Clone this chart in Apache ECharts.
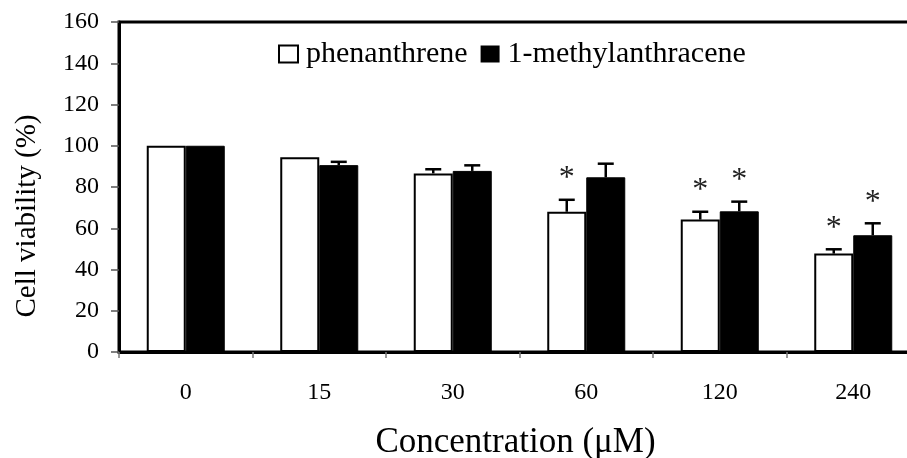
<!DOCTYPE html>
<html>
<head>
<meta charset="utf-8">
<script src="https://cdn.jsdelivr.net/npm/echarts@6/dist/echarts.min.js"></script>
<style>
html,body{margin:0;padding:0;background:#fff;}
#chart{width:907px;height:458px;}
</style>
</head>
<body>
<div id="chart"></div>
<script>
// ---- data ----
var categories = ['0', '15', '30', '60', '120', '240'];
var phenanthrene = [100, 94.4, 86.6, 68.0, 64.2, 47.7];
var phenanthreneErr = [0, 0, 2.0, 5.8, 3.8, 2.1];
var phenanthreneSig = [false, false, false, true, true, true];
var methylanthracene = [100, 90.6, 87.8, 84.7, 68.2, 56.6];
var methylanthraceneErr = [0, 1.6, 2.7, 6.6, 4.7, 5.8];
var methylanthraceneSig = [false, false, false, false, true, true];
var yTicks = [0, 20, 40, 60, 80, 100, 120, 140, 160];

var FONT = "'Liberation Serif', 'Times New Roman', serif";
var BAR_W = 39;

function errData(vals, errs, sig) {
  return vals.map(function (v, i) { return [i, v, errs[i], sig[i] ? 1 : 0]; });
}

function makeErrRender(side) {
  return function (params, api) {
    var idx = api.value(0);
    var val = api.value(1);
    var err = api.value(2);
    var sig = api.value(3);
    var base = api.coord([idx, val]);
    var x = base[0] + side * BAR_W / 2;
    var top = api.coord([idx, val + err])[1];
    var children = [];
    if (err > 0) {
      children.push({
        type: 'line',
        shape: { x1: x, y1: base[1], x2: x, y2: top },
        style: { stroke: '#000', lineWidth: 2.5 }
      });
      children.push({
        type: 'line',
        shape: { x1: x - 8, y1: top, x2: x + 8, y2: top },
        style: { stroke: '#000', lineWidth: 2.5 }
      });
    }
    if (sig) {
      children.push({
        type: 'text',
        style: {
          text: '*', x: x, y: top - 21,
          fill: '#222', font: '32px ' + FONT,
          align: 'center', verticalAlign: 'middle'
        }
      });
    }
    return { type: 'group', children: children };
  };
}

var chart = echarts.init(document.getElementById('chart'));
chart.setOption({
  backgroundColor: '#fff',
  animation: false,
  grid: {
    left: 119, top: 22, bottom: 106, right: -13,
    outerBoundsMode: 'none',
    show: true, borderColor: '#000', borderWidth: 3, backgroundColor: 'transparent'
  },
  legend: {
    left: 278, top: 39, padding: 0,
    itemWidth: 19, itemHeight: 17, itemGap: 13,
    textStyle: { fontFamily: FONT, fontSize: 30, color: '#000', padding: [0, 0, 0, 3] },
    data: [
      { name: 'phenanthrene', icon: 'rect', itemStyle: { color: '#fff', borderColor: '#000', borderWidth: 2 } },
      { name: '1-methylanthracene', icon: 'rect', itemStyle: { color: '#000', borderColor: '#000', borderWidth: 0 } }
    ]
  },
  xAxis: {
    type: 'category',
    data: categories,
    name: 'Concentration (\u03bcM)',
    nameLocation: 'middle',
    nameGap: 73,
    nameTextStyle: { fontFamily: FONT, fontSize: 35, color: '#000', padding: [0, 8, 0, 0] },
    axisLine: { lineStyle: { color: '#000', width: 3 } },
    axisTick: { show: true, length: 6, lineStyle: { color: '#777', width: 1.5 } },
    axisLabel: { fontFamily: FONT, fontSize: 24, color: '#000', margin: 29 },
    splitLine: { show: false }
  },
  yAxis: {
    type: 'value',
    min: 0, max: 160, interval: 20,
    name: 'Cell viability (%)',
    nameLocation: 'middle',
    nameGap: 77,
    nameRotate: 90,
    nameTextStyle: { fontFamily: FONT, fontSize: 29, color: '#000', padding: [0, 58, 0, 0] },
    axisLine: { show: true, lineStyle: { color: '#000', width: 3 } },
    axisTick: { show: true, length: 8, lineStyle: { color: '#555', width: 1.5 } },
    axisLabel: {
      fontFamily: FONT, fontSize: 24, color: '#000', margin: 20,
      formatter: function (v) { return yTicks.indexOf(v) >= 0 ? String(v) : ''; }
    },
    splitLine: { show: false }
  },
  series: [
    {
      name: 'phenanthrene', type: 'bar', data: phenanthrene,
      barWidth: BAR_W, barGap: '0%',
      itemStyle: { color: '#fff', borderColor: '#000', borderWidth: 2 }
    },
    {
      name: '1-methylanthracene', type: 'bar', data: methylanthracene,
      barWidth: BAR_W, barGap: '0%',
      itemStyle: { color: '#000', borderColor: '#000', borderWidth: 1 }
    },
    {
      type: 'custom', name: 'phenErr', data: errData(phenanthrene, phenanthreneErr, phenanthreneSig),
      renderItem: makeErrRender(-1), z: 5, silent: true
    },
    {
      type: 'custom', name: 'methylErr', data: errData(methylanthracene, methylanthraceneErr, methylanthraceneSig),
      renderItem: makeErrRender(1), z: 5, silent: true
    }
  ]
});
</script>
</body>
</html>
